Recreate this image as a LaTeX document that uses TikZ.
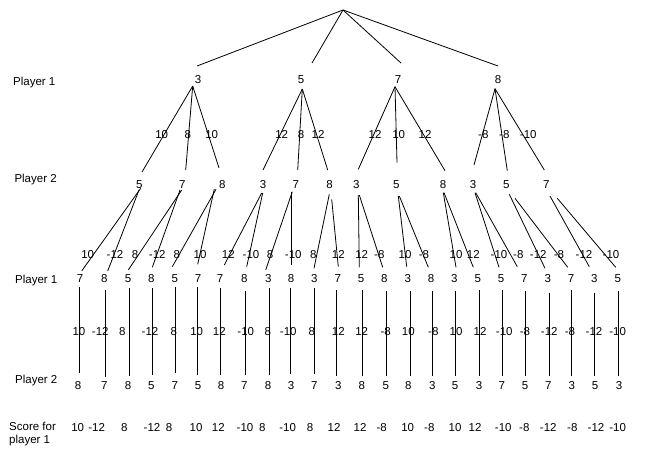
\documentclass[tikz,border=0pt]{standalone}
\usepackage{fontspec}
\setmainfont{Liberation Sans}
\begin{document}
\begin{tikzpicture}[x=1pt,y=-1pt,
  lbl/.style={inner sep=0pt,font=\fontsize{11.5}{13}\selectfont},
  rowlbl/.style={lbl,anchor=base west},
  edge/.style={line width=0.8pt,black}]
\useasboundingbox[fill=white] (0,0) rectangle (652,461);
% row labels
\node[rowlbl] (pl1a) at (13,85.5) {Player 1};
\node[rowlbl] (pl2a) at (14.3,182.2) {Player 2};
\node[rowlbl] (pl1b) at (15,283.2) {Player 1};
\node[rowlbl] (pl2b) at (15,383.2) {Player 2};
\node[rowlbl] (sc1) at (9,430.5) {Score for};
\node[rowlbl] (sc2) at (9,443.5) {player 1};
% root
\coordinate (root) at (343,10);
\foreach \i/\x/\v/\ex/\ey in {1/198/3/197/66, 2/301/5/312/63, 3/398/7/401/63, 4/498/8/498/66}{
  \node[lbl] (a\i) at (\x,79.2) {\v};
  \coordinate (ra\i) at (\ex,\ey);
  \draw[edge] (root) -- (ra\i);
}
% level 1 edges
\foreach \k/\sx/\sy/\tx/\ty in {1/192.7/86/142/172, 2/192.7/86/185.7/170, 3/192.7/86/219/168,
  4/302.3/89/263/170, 5/302.3/89/297.7/170, 6/302.3/89/327.7/170,
  7/395/86.7/358.3/169.3, 8/395/86.7/397/162.7, 9/395/86.7/445/170.7,
  10/495/88.7/474/165, 11/495/88.7/507.3/170.7, 12/495/88.7/544.3/170}{
  \coordinate (s1-\k) at (\sx,\sy);
  \coordinate (t1-\k) at (\tx,\ty);
  \draw[edge] (s1-\k) -- (t1-\k);
}
\foreach \k/\x/\v in {1/161.7/10, 2/187.7/8, 3/211.7/10, 4/281.7/12, 5/301/8, 6/318/12,
  7/375/12, 8/398.7/10, 9/425/12, 10/483.3/-8, 11/504.3/-8, 12/528.3/-10}{
  \node[lbl] (w1-\k) at (\x,134.2) {\v};
}
% level 2 nodes
\foreach \k/\x/\v in {1/139.3/5, 2/182.3/7, 3/222.3/8, 4/263/3, 5/295.7/7, 6/329.5/8,
  7/356.3/3, 8/396.3/5, 9/443/8, 10/473/3, 11/506.3/5, 12/546.3/7}{
  \node[lbl] (b\k) at (\x,184.3) {\v};
}
% level 2 edges
\foreach \k/\sx/\sy/\tx/\ty in {1/140.7/188.3/81.7/271, 2/139/190/107.7/271,
  3/181.7/190/128.3/270, 4/180/190/152.3/267.3,
  5/216/189.3/172.3/266.7, 6/214.3/189/197.7/264.3,
  7/261.7/193/224.3/265, 8/262.7/193/246.7/266.7,
  9/292.3/191.7/265.7/270, 10/291.7/191.7/291.7/265,
  11/329.3/194.3/314/268.3, 12/331.7/199.3/338.3/266.7,
  13/358.3/195/359.3/267.3, 14/359.3/195/382.7/267.3,
  15/398.3/196/406.7/266.7, 16/399.3/196/428.3/267.3,
  17/443.3/192.7/456/267.3, 18/444/192.7/473.3/267.3,
  19/475/192.7/499/267.3, 20/475.7/192.7/517.3/266.7,
  21/509.3/194.3/545/268.3, 22/515/198.3/567.7/267.3,
  23/550/196/589.3/266.7, 24/557.3/198.3/615.7/267.3}{
  \coordinate (s2-\k) at (\sx,\sy);
  \coordinate (t2-\k) at (\tx,\ty);
  \draw[edge] (s2-\k) -- (t2-\k);
}
\foreach \k/\x/\v in {1/87.7/10, 2/115/-12, 3/135/8, 4/157.3/-12, 5/176.7/8, 6/200/10,
  7/228.3/12, 8/251/-10, 9/270/8, 10/293.3/-10, 11/313.3/8, 12/338.3/12,
  13/361.7/12, 14/379.3/-8, 15/405/10, 16/424/-8, 17/456/10, 18/473.3/12,
  19/499/-10, 20/518.3/-8, 21/538.3/-12, 22/559/-8, 23/584/-12, 24/611/-10}{
  \node[lbl] (w2-\k) at (\x,254.7) {\v};
}
% level 3 nodes
\foreach \k/\x/\v in {1/80/7, 2/104.3/8, 3/128/5, 4/151.3/8, 5/174.7/5, 6/198/7,
  7/220/7, 8/244.3/8, 9/268.3/3, 10/291/8, 11/314.3/3, 12/337.7/7,
  13/361/5, 14/384.3/8, 15/407.7/3, 16/431/8, 17/454.3/3, 18/477.7/5,
  19/501/5, 20/524.3/7, 21/547.7/3, 22/571/7, 23/594.3/3, 24/617.7/5}{
  \node[lbl] (c\k) at (\x,279) {\v};
}
% vertical edges
\foreach \k/\x/\sy/\ty in {1/79.3/286.7/373.3, 2/105/290/376.7, 3/129/288/375.7, 4/152.3/288/375,
  5/175/286.7/373, 6/197.7/286.7/375, 7/220/288/375, 8/245.7/290.7/375,
  9/269.3/288/375, 10/290.7/288/374, 11/314.3/288/374, 12/336.7/290/376,
  13/362.3/290/376, 14/386/291/376, 15/410/291/376, 16/432.3/291/376,
  17/455/291/376, 18/479/290/376, 19/502.7/290/376, 20/525.7/291/376,
  21/549.3/292.7/376, 22/571.7/290/376, 23/594.3/292.7/376, 24/618.3/291/376}{
  \coordinate (s3-\k) at (\x,\sy);
  \coordinate (t3-\k) at (\x,\ty);
  \draw[edge] (s3-\k) -- (t3-\k);
}
\foreach \k/\x/\v in {1/79/10, 2/100.3/-12, 3/122.3/8, 4/150/-12, 5/173.8/8, 6/196.7/10,
  7/219.3/12, 8/245.8/-10, 9/267.7/8, 10/288.3/-10, 11/311.7/8, 12/338.3/12,
  13/361.7/12, 14/385.7/-8, 15/408.3/10, 16/433.3/-8, 17/456/10, 18/480/12,
  19/504.3/-10, 20/525/-8, 21/549.3/-12, 22/570/-8, 23/594/-12, 24/617.7/-10}{
  \node[lbl] (w3-\k) at (\x,331.5) {\v};
}
% level 4 nodes
\foreach \k/\x/\v in {1/78/8, 2/104.3/7, 3/128/8, 4/151.3/5, 5/174.7/7, 6/198/5,
  7/221/8, 8/244.3/7, 9/268/8, 10/291/3, 11/314.3/7, 12/338.3/3,
  13/361.7/8, 14/385.7/5, 15/408.3/8, 16/432.3/3, 17/455/5, 18/479/3,
  19/501.7/7, 20/525/5, 21/548.3/7, 22/571.7/3, 23/595/5, 24/619/3}{
  \node[lbl] (d\k) at (\x,386) {\v};
}
% scores
\foreach \k/\x/\v in {1/77.7/10, 2/96.7/-12, 3/124.3/8, 4/152/-12, 5/169/8, 6/196/10,
  7/218.3/12, 8/245/-10, 9/262.3/8, 10/287.7/-10, 11/310/8, 12/334/12,
  13/360/12, 14/381.7/-8, 15/407.7/10, 16/429.3/-8, 17/455/10, 18/475/12,
  19/503.3/-10, 20/524.3/-8, 21/548.3/-12, 22/572.3/-8, 23/596/-12, 24/617.7/-10}{
  \node[lbl] (e\k) at (\x,427.3) {\v};
}
\end{tikzpicture}
\end{document}
